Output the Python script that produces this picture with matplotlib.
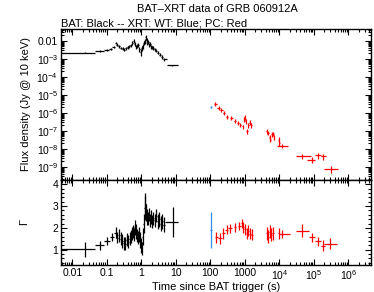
#Grafico BAT-XRT de GRB 060912A: flujo arriba, indice espectral abajo

import matplotlib
matplotlib.use("Agg")
import matplotlib.pyplot as plt
from matplotlib.ticker import FixedLocator, LogLocator, AutoMinorLocator, NullFormatter

plt.rcParams['font.family'] = ['Liberation Sans', 'DejaVu Sans']
plt.rcParams['mathtext.default'] = 'regular'

#Datos BAT (negro) - flujo, bins contiguos
bat_t = [0.024, 0.065, 0.10, 0.13, 0.16, 0.18, 0.20, 0.23, 0.26, 0.29, 0.32, 0.36, 0.40, 0.45, 0.50,
         0.55, 0.60, 0.65, 0.70, 0.76, 0.82, 0.88, 0.95, 1.02, 1.1, 1.18, 1.26, 1.34, 1.42, 1.5,
         1.6, 1.7, 1.82, 1.95, 2.1, 2.25, 2.45, 2.7, 3.0, 3.4, 3.9, 4.5, 7.8]
bat_edges = [0.001, 0.047, 0.085, 0.115, 0.145, 0.17, 0.19, 0.215, 0.245, 0.275, 0.305, 0.34, 0.38,
             0.425, 0.475, 0.525, 0.575, 0.625, 0.675, 0.73, 0.79, 0.85, 0.915, 0.985, 1.06, 1.14,
             1.22, 1.3, 1.38, 1.46, 1.55, 1.65, 1.76, 1.885, 2.02, 2.17, 2.35, 2.57, 2.85, 3.2, 3.65,
             4.2, 5.6, 11.3]
bat_flux = [2.2e-3, 2.8e-3, 3.2e-3, 3.6e-3, 4.5e-3, 7.8e-3, 6.2e-3, 5.0e-3, 4.0e-3, 3.7e-3,
            3.3e-3, 3.8e-3, 4.5e-3, 5.0e-3, 5.7e-3, 7.5e-3, 9.6e-3, 6.8e-3, 5.0e-3, 5.5e-3,
            6.2e-3, 3.5e-3, 2.4e-3, 4.0e-3, 5.0e-3, 8.0e-3, 1.0e-2, 1.6e-2, 1.1e-2, 7.7e-3,
            8.5e-3, 6.2e-3, 6.5e-3, 5.0e-3, 4.5e-3, 4.1e-3, 3.4e-3, 2.9e-3, 2.2e-3, 1.7e-3,
            1.3e-3, 9.5e-4, 4.3e-4]
bat_ferr = [0.05, 0.1, 0.12, 0.12, 0.15, 0.15, 0.15, 0.15, 0.15, 0.2,
            0.2, 0.2, 0.2, 0.2, 0.2, 0.25, 0.25, 0.25, 0.25, 0.25,
            0.25, 0.3, 0.4, 0.3, 0.3, 0.3, 0.3, 0.3, 0.3, 0.25,
            0.25, 0.25, 0.25, 0.25, 0.2, 0.2, 0.2, 0.2, 0.2, 0.2,
            0.2, 0.2, 0.1]

#Datos BAT - indice de fotones
gb_t = [0.024, 0.065, 0.10, 0.14, 0.18, 0.20, 0.23, 0.255, 0.28, 0.31, 0.345, 0.38, 0.42, 0.46, 0.50,
        0.53, 0.57, 0.61, 0.65, 0.69, 0.74, 0.79, 0.85, 0.90, 0.97, 1.03, 1.10, 1.18, 1.25, 1.30,
        1.39, 1.49, 1.59, 1.70, 1.82, 1.95, 2.08, 2.22, 2.46, 2.70, 3.0, 3.3, 3.66, 4.05, 4.47, 8.0]
gb_edges = [0.001, 0.047, 0.085, 0.12, 0.16, 0.19, 0.215, 0.243, 0.268, 0.295, 0.327, 0.362, 0.40,
            0.44, 0.48, 0.515, 0.55, 0.59, 0.63, 0.67, 0.715, 0.765, 0.82, 0.875, 0.935, 1.0, 1.065,
            1.14, 1.215, 1.275, 1.345, 1.44, 1.54, 1.645, 1.76, 1.885, 2.015, 2.15, 2.34, 2.58, 2.85,
            3.15, 3.48, 3.85, 4.25, 4.9, 11.7]
gb_g = [1.02, 1.2, 1.4, 1.58, 1.77, 1.55, 1.67, 1.5, 1.4, 1.3, 1.27, 1.45, 1.36, 1.5, 1.62,
        1.75, 1.85, 1.7, 2.03, 1.85, 1.65, 1.55, 1.7, 1.45, 1.2, 1.05, 1.6, 2.2, 2.9, 3.1,
        2.7, 2.5, 2.45, 2.6, 2.35, 2.5, 2.3, 2.45, 2.35, 2.55, 2.3, 2.4, 2.2, 2.3, 2.15, 2.27]
gb_err = [0.35, 0.2, 0.2, 0.2, 0.25, 0.25, 0.3, 0.3, 0.3, 0.3, 0.3, 0.3, 0.3, 0.3, 0.3,
          0.3, 0.3, 0.3, 0.35, 0.35, 0.3, 0.3, 0.35, 0.35, 0.35, 0.3, 0.4, 0.45, 0.55, 0.5,
          0.4, 0.35, 0.3, 0.3, 0.3, 0.3, 0.3, 0.3, 0.3, 0.3, 0.35, 0.35, 0.35, 0.35, 0.35, 0.7]

#Datos XRT modo WT (azul)
wt_t = [105]
wt_tlo = [100]
wt_thi = [110]
wt_flux = [2.2e-6]
wt_ferr = [0.15]
wt_g = [1.9]
wt_gerr = [0.83]

#Datos XRT modo PC (rojo) - flujo
pc_t = [140, 175, 210, 245, 300, 400, 530, 630, 740, 870, 950, 1000, 1080, 1150, 1250, 1420, 1550,
        4300, 4700, 5200, 5500, 6000, 6600, 7000, 9600, 10000, 11500,
        46000, 86000, 130000, 185000, 320000]
pc_tlo = [128, 160, 195, 228, 275, 370, 490, 590, 700, 830, 920, 970, 1040, 1110, 1200, 1350, 1480,
          4150, 4550, 5050, 5350, 5800, 6400, 6800, 9300, 9700, 8700,
          31000, 65000, 110000, 160000, 200000]
pc_thi = [152, 190, 228, 265, 330, 450, 570, 680, 790, 910, 980, 1040, 1110, 1200, 1300, 1500, 1650,
          4450, 4850, 5350, 5650, 6200, 6800, 7200, 9900, 10300, 18000,
          85000, 110000, 160000, 230000, 500000]
pc_flux = [3.2e-6, 1.9e-6, 1.4e-6, 1.0e-6, 5.8e-7, 5.2e-7, 3.7e-7, 2.8e-7, 2.2e-7, 1.8e-7, 4.7e-7,
           6.0e-7, 3.5e-7, 1.0e-7, 2.1e-7, 2.9e-7, 2.0e-7,
           1.0e-7, 8.0e-8, 4.5e-8, 3.3e-8, 6.3e-8, 7.0e-8, 4.5e-8, 3.3e-8, 2.0e-8, 1.5e-8,
           4.1e-9, 2.5e-9, 4.3e-9, 3.8e-9, 8.0e-10]
pc_ferr = [0.25, 0.25, 0.25, 0.25, 0.25, 0.25, 0.25, 0.25, 0.25, 0.25, 0.3, 0.3, 0.3, 0.3, 0.3, 0.3, 0.3,
           0.3, 0.3, 0.3, 0.3, 0.3, 0.3, 0.3, 0.3, 0.3, 0.3,
           0.35, 0.35, 0.35, 0.35, 0.4]

#Datos XRT modo PC - indice de fotones
gp_t = [148, 192, 240, 300, 370, 520, 690, 810, 910, 1000, 1130, 1260, 1410, 1590,
        4300, 4800, 5300, 5700, 6500, 9500, 12000,
        44000, 86000, 130000, 180000, 300000]
gp_tlo = [135, 170, 215, 270, 335, 470, 630, 760, 860, 955, 1070, 1200, 1340, 1500,
          4100, 4550, 5050, 5500, 6200, 9200, 10000,
          30000, 70000, 110000, 160000, 190000]
gp_thi = [162, 215, 270, 335, 410, 570, 750, 860, 955, 1070, 1200, 1340, 1500, 1700,
          4550, 5050, 5500, 5950, 6800, 9800, 20000,
          70000, 110000, 160000, 210000, 480000]
gp_g = [1.58, 1.53, 1.76, 1.91, 1.98, 2.03, 2.09, 2.21, 2.03, 1.94, 1.76, 1.88, 1.73, 1.68,
        1.76, 1.6, 1.83, 1.68, 1.75, 1.75, 1.72,
        1.88, 1.56, 1.38, 1.18, 1.27]
gp_err = [0.25, 0.25, 0.25, 0.2, 0.2, 0.2, 0.2, 0.2, 0.25, 0.25, 0.25, 0.25, 0.25, 0.25,
          0.3, 0.3, 0.3, 0.3, 0.3, 0.25, 0.2,
          0.3, 0.2, 0.2, 0.25, 0.25]

xticks = [0.01, 0.1, 1, 10, 100, 1000, 1e4, 1e5, 1e6]
xticklabels = ['0.01', '0.1', '1', '10', '100', '1000', '$10^4$', '$10^5$', '$10^6$']
fticks = [1e-2, 1e-3, 1e-4, 1e-5, 1e-6, 1e-7, 1e-8, 1e-9]
fticklabels = ['0.01', '$10^{-3}$', '$10^{-4}$', '$10^{-5}$', '$10^{-6}$', '$10^{-7}$', '$10^{-8}$', '$10^{-9}$']
gticks = [1, 2, 3, 4]

blue = '#2f8fef'
red = '#ff0000'


def xbars(t, lo, hi):
    return [[a - b for a, b in zip(t, lo)], [b - a for a, b in zip(t, hi)]]


def ybars(v, frac):
    return [[a * e for a, e in zip(v, frac)], [a * e for a, e in zip(v, frac)]]


def estilo(ax):
    ax.tick_params(which='both', direction='in', top=True, right=True, labelsize=7.5, width=0.8, pad=2)
    ax.tick_params(which='major', length=4)
    ax.tick_params(which='minor', length=2)
    for s in ax.spines.values():
        s.set_linewidth(1.0)


fig = plt.figure(figsize=(3.74, 2.92), dpi=100)
ax1 = fig.add_axes([0.163, 0.384, 0.829, 0.517])
ax2 = fig.add_axes([0.163, 0.0925, 0.829, 0.2915], sharex=ax1)

kw = dict(fmt='none', elinewidth=0.9, capsize=0)

#Panel superior: flujo
ax1.errorbar(bat_t, bat_flux, xerr=xbars(bat_t, bat_edges[:-1], bat_edges[1:]),
             yerr=ybars(bat_flux, bat_ferr), ecolor='black', **kw)
ax1.errorbar(wt_t, wt_flux, xerr=xbars(wt_t, wt_tlo, wt_thi), yerr=ybars(wt_flux, wt_ferr), ecolor=blue, **kw)
ax1.errorbar(pc_t, pc_flux, xerr=xbars(pc_t, pc_tlo, pc_thi), yerr=ybars(pc_flux, pc_ferr), ecolor=red, **kw)
ax1.set_xscale('log')
ax1.set_yscale('log')
ax1.set_xlim(0.0047, 4.5e6)
ax1.set_ylim(1.9e-10, 0.046)
ax1.yaxis.set_major_locator(FixedLocator(fticks))
ax1.set_yticklabels(fticklabels)
ax1.yaxis.set_minor_locator(LogLocator(base=10, subs=range(2, 10), numticks=20))
ax1.yaxis.set_minor_formatter(NullFormatter())
ax1.set_ylabel('Flux density (Jy @ 10 keV)', fontsize=8)
ax1.tick_params(labelbottom=False)
estilo(ax1)
ax1.set_title('BAT: Black -- XRT: WT: Blue; PC: Red', fontsize=8, loc='left', pad=2)
fig.text(0.58, 0.968, 'BAT\u2013XRT data of GRB 060912A', ha='center', va='center', fontsize=8)

#Panel inferior: indice de fotones
ax2.errorbar(gb_t, gb_g, xerr=xbars(gb_t, gb_edges[:-1], gb_edges[1:]), yerr=gb_err, ecolor='black', **kw)
ax2.errorbar(wt_t, wt_g, xerr=xbars(wt_t, wt_tlo, wt_thi), yerr=wt_gerr, ecolor=blue, **kw)
ax2.errorbar(gp_t, gp_g, xerr=xbars(gp_t, gp_tlo, gp_thi), yerr=gp_err, ecolor=red, **kw)
ax2.set_ylim(0.3, 4.2)
ax2.set_yticks(gticks)
ax2.yaxis.set_minor_locator(AutoMinorLocator(5))
ax2.xaxis.set_major_locator(FixedLocator(xticks))
ax2.set_xticklabels(xticklabels)
ax2.xaxis.set_minor_locator(LogLocator(base=10, subs=range(2, 10), numticks=20))
ax2.xaxis.set_minor_formatter(NullFormatter())
ax2.set_xlabel('Time since BAT trigger (s)', fontsize=8, labelpad=0)
ax2.set_ylabel('\u0393', fontsize=8, labelpad=17)
estilo(ax2)

fig.savefig('out.png', dpi=100)
